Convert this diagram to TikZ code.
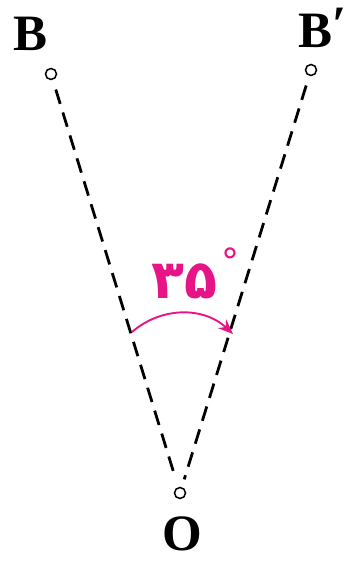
\documentclass[tikz,border=0pt]{standalone}
\usepackage{fontspec}
\setmainfont{Liberation Serif}
\newfontfamily\arabicfont[Script=Arabic]{DejaVu Sans}
\usepackage{xcolor}
\usetikzlibrary{arrows.meta}
\definecolor{rotmag}{RGB}{230,20,135}

\begin{document}
\begin{tikzpicture}[
  x=1pt,y=1pt,
  >={Stealth[length=15pt,width=12pt]},
  pnt/.style={circle,draw,line width=1.5pt,minimum size=11pt,inner sep=0pt},
  ray/.style={line width=2.8pt,dash pattern=on 15pt off 9pt,shorten <=10pt,shorten >=8pt},
  lab/.style={font=\fontsize{51}{60}\selectfont\bfseries,inner sep=0pt},
  ang/.style={rotmag,line width=1.9pt}
]
  \useasboundingbox (0,0) rectangle (351,563);
  \node[pnt] (b)  at (51,489)  {};
  \node[pnt] (bp) at (311,493) {};
  \node[pnt] (o)  at (180,70)  {};

  \draw[ray] (b) -- (o);
  \draw[ray] (bp) -- (o);

  \node[lab] (lb)  at (31,529)  {B};
  \node[lab,anchor=west] (lbp) at (298,535) {B\raisebox{6pt}{′}};
  \node[lab] (lo)  at (182,29)  {O};

  \coordinate (a1) at (132,231);
  \coordinate (a2) at (233,229);
  \draw[ang,->] (a1) to[bend left=42] (a2);

  \node[rotmag,font=\arabicfont\bfseries\fontsize{54}{60}\selectfont,inner sep=0pt,anchor=west] (deg) at (151,290)
    {۳۵\kern4pt\raisebox{24pt}{\fontsize{36}{40}\selectfont\mdseries °}};
\end{tikzpicture}
\end{document}
